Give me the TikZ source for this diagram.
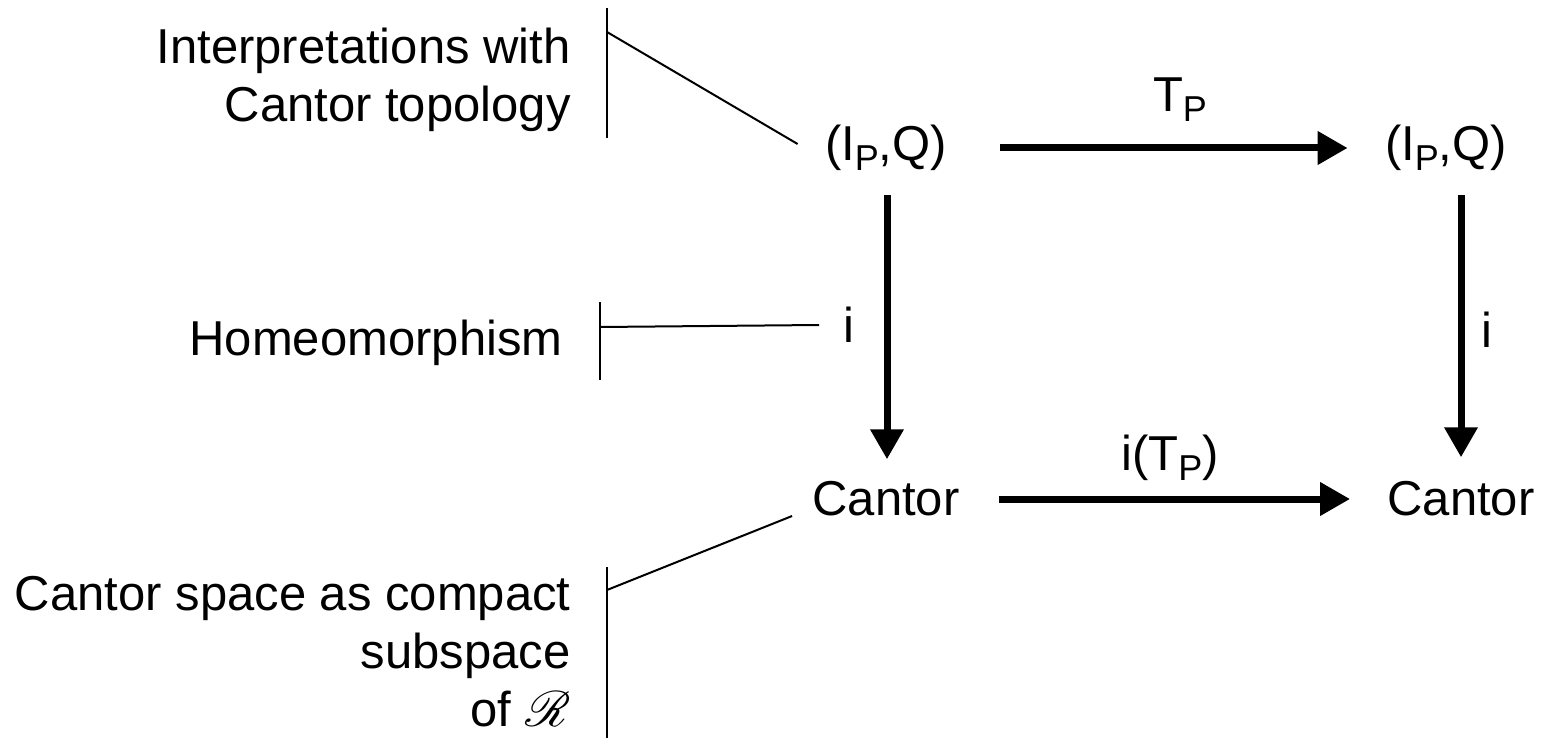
\documentclass[tikz,border=0pt]{standalone}
\usepackage{fontspec}
\setmainfont{Liberation Sans}
\usepackage{mathrsfs}
\usetikzlibrary{arrows.meta}
\newcommand{\lowsub}[1]{\raisebox{-5pt}{\fontsize{18}{18}\selectfont #1}}
\begin{document}
\begin{tikzpicture}[x=0.5pt,y=-0.5pt,
  lbl/.style={font=\fontsize{24.5}{29}\selectfont, inner sep=0pt},
  side/.style={lbl, align=right, anchor=east},
  arr/.style={line width=3.5pt, -{Triangle[length=15pt,width=16pt]}},
  bar/.style={line width=1.4pt},
  thin/.style={line width=1pt}]
\useasboundingbox (0,0) rectangle (1542,738);
% main nodes
\node[lbl] (A) at (886,148) {(I\lowsub{P},Q)};
\node[lbl] (B) at (1446,148) {(I\lowsub{P},Q)};
\node[lbl] (C) at (886,499) {Cantor};
\node[lbl] (D) at (1461,499) {Cantor};
% arrow labels
\node[lbl] (tp) at (1180,100) {T\lowsub{P}};
\node[lbl] (il) at (849,325) {i};
\node[lbl] (ir) at (1487,330) {i};
\node[lbl] (itp) at (1170,458) {i(T\lowsub{P})};
% arrows
\draw[arr] ([xshift=26.5pt]A.east) -- ([xshift=-18.5pt]B.west);
\draw[arr] ([xshift=19.5pt]C.east) -- ([xshift=-18.5pt]D.west);
\draw[arr] ([yshift=-12pt]A.south -| 887,0) -- ([yshift=11pt]C.north -| 887,0);
\draw[arr] ([yshift=-12pt]B.south -| D.north) -- ([yshift=12pt]D.north);
% side annotations
\node[side] (t1) at (571,80) {Interpretations with\\Cantor topology};
\node[side] (t2) at (563,343) {Homeomorphism};
\node[side] (t3) at (571,652) {Cantor space as compact\\subspace\\of $\mathscr{R}$};
% bars
\coordinate (b1t) at (607,8);  \coordinate (b1b) at (607,138);
\coordinate (b2t) at (600,302); \coordinate (b2b) at (600,380);
\coordinate (b3t) at (607,567); \coordinate (b3b) at (607,738);
\draw[bar] (b1t) -- (b1b);
\draw[bar] (b2t) -- (b2b);
\draw[bar] (b3t) -- (b3b);
\coordinate (b1m) at (607,32);
\coordinate (b2m) at (600,327);
\coordinate (b3m) at (607,590);
\draw[thin] (b1m) -- ([shift={(-27,-4)}]A.west);
\draw[thin] (b2m) -- ([xshift=-12pt]il.west);
\draw[thin] (b3m) -- ([shift={(-20,17)}]C.west);
\end{tikzpicture}
\end{document}
